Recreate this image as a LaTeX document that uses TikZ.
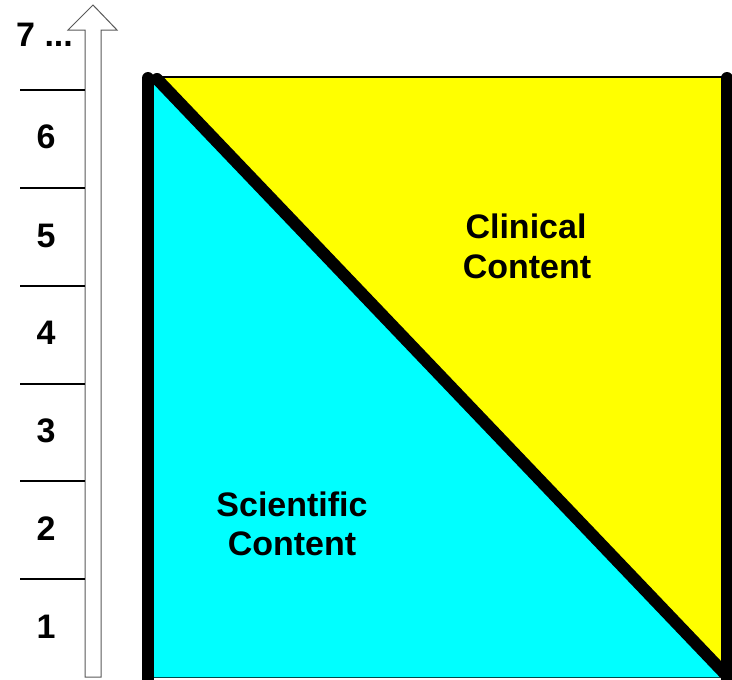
\documentclass[tikz,border=0pt]{standalone}
\usepackage{fontspec}
\setmainfont{Liberation Sans}
\definecolor{cyanfill}{RGB}{0,255,255}
\definecolor{yellowfill}{RGB}{255,255,0}
\begin{document}
\begin{tikzpicture}[x=1pt,y=-1pt,
  lbl/.style={font=\fontsize{34}{40}\selectfont\bfseries, inner sep=0pt, anchor=base},
  thickblk/.style={line width=12pt, line cap=round, black},
  tick/.style={line width=1.2pt, black}]
\useasboundingbox (0,0) rectangle (732,680);
% fills
\fill[yellowfill] (154,77) -- (721,77) -- (721,672) -- cycle;
\fill[cyanfill] (154,80) -- (154,677) -- (724,677) -- cycle;
\draw[line width=1.2pt, black] (148,77) -- (727,77);
\draw[line width=1pt, teal!60!black] (154,677) -- (720,677);
% coordinates
\coordinate (tl) at (148,78);
\coordinate (bl) at (148,690);
\coordinate (dtl) at (157,79);
\coordinate (dbr) at (727,676);
\coordinate (tr) at (727,78);
\coordinate (br) at (727,690);
\draw[thickblk] (tl) -- (bl);
\draw[thickblk] (dtl) -- (dbr);
\draw[thickblk] (tr) -- (br);
% arrow
\draw[gray!70!black, line width=1pt, fill=white] (85,677) -- (85,30) -- (68,30) -- (93,5) -- (117,30) -- (101,30) -- (101,677) -- cycle;
% ticks
\foreach \yy/\nm in {90/a,188/b,286/c,384/d,481/e,579/f}{
  \coordinate (t\nm1) at (20,\yy);
  \coordinate (t\nm2) at (85,\yy);
  \draw[tick] (t\nm1) -- (t\nm2);
}
% level numbers
\node[lbl] (n1) at (46,638) {1};
\node[lbl] (n2) at (46,540) {2};
\node[lbl] (n3) at (46,442) {3};
\node[lbl] (n4) at (46,344) {4};
\node[lbl] (n5) at (46,247) {5};
\node[lbl] (n6) at (46,148) {6};
\node[lbl, anchor=base west] (n7) at (16,46) {7 ...};
% labels
\node[lbl] (cl1) at (526,238) {Clinical};
\node[lbl] (cl2) at (527,278) {Content};
\node[lbl] (sc1) at (292,516) {Scientific};
\node[lbl] (sc2) at (292,555) {Content};
\end{tikzpicture}
\end{document}
